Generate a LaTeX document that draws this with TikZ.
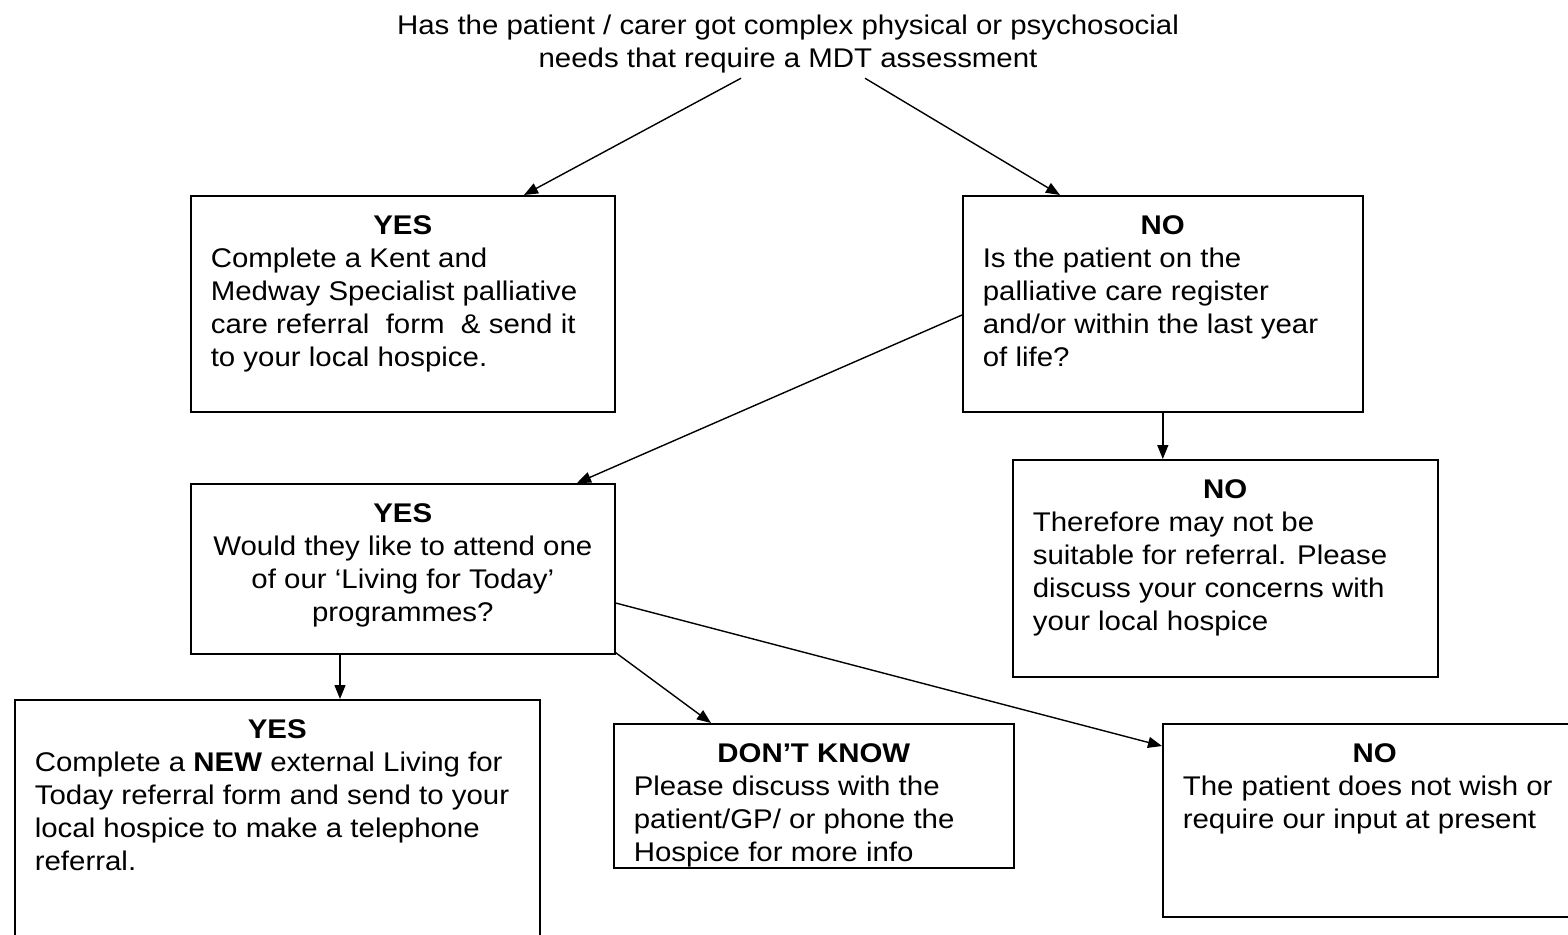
\documentclass[tikz,border=0pt]{standalone}
\usepackage{fontspec}
\setmainfont{Liberation Sans}[FakeStretch=1.09]
\usetikzlibrary{arrows.meta,calc}
\newcommand\flowtext[5]{% width, height, header, body, alignment
\parbox[t][#2][t]{#1}{\centering\rule{0pt}{39pt}\textbf{#3}\par
#5#4\par}}
\newcommand\leftbody{\raggedright\leftskip=20pt\relax}
\newcommand\centbody{\centering}
\begin{document}
\begin{tikzpicture}[x=1pt,y=-1pt,
  every node/.style={font=\fontsize{27}{33}\selectfont},
  fbox/.style={draw=black, line width=1.6pt, inner sep=0pt, anchor=north west},
  conn/.style={line width=1.4pt, -{Triangle[length=14pt,width=11pt]}}]
\useasboundingbox (0,0) rectangle (1568,934);
\fill[white] (0,0) rectangle (1568,934);
\node[align=center, anchor=north] (q) at (788,11)
  {Has the patient / carer got complex physical or psychosocial\\needs that require a MDT assessment};
\node[fbox] (a) at (190,195) {\flowtext{424pt}{216pt}{YES}{%
\mbox{Complete a Kent and}\\\mbox{Medway Specialist palliative}\\\mbox{care referral\ \ form\ \ \& send it}\\\mbox{to your local hospice.}}{\leftbody}};
\node[fbox] (b) at (962,195) {\flowtext{400pt}{216pt}{NO}{%
\mbox{Is the patient on the}\\\mbox{palliative care register}\\\mbox{and/or within the last year}\\\mbox{of life?}}{\leftbody}};
\node[fbox] (c) at (190,483) {\flowtext{424pt}{170pt}{YES}{%
\mbox{Would they like to attend one}\\\mbox{of our ‘Living for Today’}\\\mbox{programmes?}}{\centbody}};
\node[fbox] (d) at (1012,459) {\flowtext{425pt}{217pt}{NO}{%
\mbox{Therefore may not be}\\\mbox{suitable for referral. Please}\\\mbox{discuss your concerns with}\\\mbox{your local hospice}}{\leftbody}};
\node[fbox] (e) at (14,699) {\flowtext{525pt}{260pt}{YES}{%
\mbox{Complete a \textbf{NEW} external Living for}\\\mbox{Today referral form and send to your}\\\mbox{local hospice to make a telephone}\\\mbox{referral.}}{\leftbody}};
\node[fbox] (f) at (613,723) {\flowtext{400pt}{144pt}{DON’T KNOW}{%
\mbox{Please discuss with the}\\\mbox{patient/GP/ or phone the}\\\mbox{Hospice for more info}}{\leftbody}};
\node[fbox] (g) at (1162,723) {\flowtext{424pt}{193pt}{NO}{%
\mbox{The patient does not wish or}\\\mbox{require our input at present}}{\leftbody}};
\coordinate (qL) at ($(q.south)+(-47,2)$);
\coordinate (qR) at ($(q.south)+(77,2)$);
\draw[conn] (qL) -- ($(a.north west)+(334,0)$);
\draw[conn] (qR) -- ($(b.north west)+(98,0)$);
\draw[conn] ($(b.north west)+(0,120)$) -- ($(c.north west)+(387,0)$);
\draw[conn] (b.south) -- (b.south |- d.north);
\draw[conn] ($(c.south west)+(150,0)$) -- ($(e.north west)+(326,0)$);
\draw[conn] ($(c.south east)+(0,-2)$) -- ($(f.north west)+(98,0)$);
\draw[conn] ($(c.north east)+(0,120)$) -- ($(g.north west)+(0,23)$);
\end{tikzpicture}
\end{document}
